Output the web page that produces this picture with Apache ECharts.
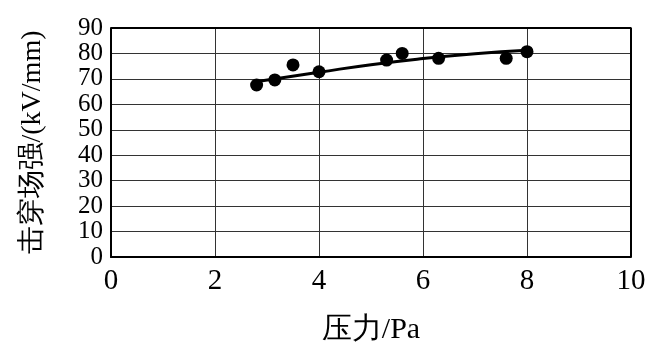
<!DOCTYPE html>
<html lang="zh">
<head>
    <meta charset="UTF-8">
    <title>击穿场强与压力</title>
    <script src="https://cdn.jsdelivr.net/npm/echarts@6.0.0/dist/echarts.min.js"></script>
    <style>
        html, body { margin: 0; padding: 0; background: #fff; }
        #chart { width: 652px; height: 357px; }
    </style>
</head>
<body>
    <div id="chart"></div>
    <script>
    // 测量点：压力(Pa) 与 击穿场强(kV/mm)
    const pressure = [2.8, 3.15, 3.5, 4.0, 5.3, 5.6, 6.3, 7.6, 8.0];
    const strength = [67.6, 69.6, 75.5, 72.8, 77.4, 80.0, 78.1, 78.1, 80.7];
    // 拟合曲线
    const fitX = [2.75, 4, 5, 6, 7, 8];
    const fitY = [68.8, 72.6, 75.6, 78.0, 79.9, 81.3];

    const serif = 'Liberation Serif';
    const chart = echarts.init(document.getElementById('chart'));

    chart.setOption({
        animation: false,
        grid: { left: 111, right: 21, top: 28, bottom: 100, containLabel: false },
        xAxis: {
            type: 'value', min: 0, max: 10, interval: 2,
            name: '压力/Pa', nameLocation: 'middle', nameGap: 58,
            nameTextStyle: { fontFamily: serif, fontSize: 30, color: '#000' },
            axisLine: { show: true, lineStyle: { color: '#000', width: 2 } },
            axisTick: { show: false },
            axisLabel: { fontFamily: serif, fontSize: 29, color: '#000', margin: 10 },
            splitLine: { show: true, lineStyle: { color: '#333', width: 1 } }
        },
        yAxis: {
            type: 'value', min: 0, max: 90, interval: 10,
            name: '击穿场强/(kV/mm)', nameLocation: 'middle', nameGap: 64,
            nameTextStyle: { fontFamily: serif, fontSize: 28, color: '#000' },
            axisLine: { show: true, lineStyle: { color: '#000', width: 2 } },
            axisTick: { show: false },
            axisLabel: {
                fontFamily: serif, fontSize: 25, color: '#000', margin: 8,
                lineHeight: 20, hideOverlap: false, showMinLabel: true, showMaxLabel: true
            },
            splitLine: { show: true, lineStyle: { color: '#333', width: 1 } }
        },
        series: [
            {
                type: 'line', smooth: true, showSymbol: false,
                data: fitX.map((x, i) => [x, fitY[i]]),
                lineStyle: { color: '#000', width: 3 }
            },
            {
                type: 'scatter', symbolSize: 13,
                data: pressure.map((x, i) => [x, strength[i]]),
                itemStyle: { color: '#000', opacity: 1 }
            },
            {
                // 右侧与上侧边框
                type: 'line', silent: true, showSymbol: false,
                data: [[0, 90], [10, 90], [10, 0]],
                lineStyle: { color: '#000', width: 2 }
            }
        ]
    });
    </script>
</body>
</html>
